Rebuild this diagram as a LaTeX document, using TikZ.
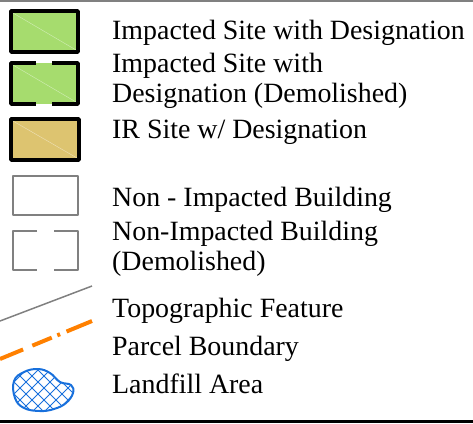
\documentclass[tikz,border=0pt]{standalone}
\usepackage{fontspec}
\setmainfont{Liberation Serif}
\usepackage{xcolor}
\usepackage{tikz}

\definecolor{siteGreen}{RGB}{166,220,110}
\definecolor{siteTan}{RGB}{221,196,112}
\definecolor{bldGray}{RGB}{128,128,128}
\definecolor{parcelOrange}{RGB}{255,128,0}
\definecolor{fillBlue}{RGB}{24,112,220}

\begin{document}
\begin{tikzpicture}[x=1bp, y=-1bp, line join=round,
  every node/.style={font=\fontsize{28}{30}\selectfont, inner sep=0pt, anchor=base west, align=left},
  sitebox/.style={draw=black, line width=3.5bp},
  bldbox/.style={draw=bldGray, line width=2bp}]

\useasboundingbox (0,0) rectangle (473,423);
\draw[bldGray, line width=2bp] (0,1) -- (473,1);
\draw[line width=3bp] (0,421) -- (473,421);

% impacted site
\fill[siteGreen] (11,11) rectangle (78,52);
\draw[white, opacity=0.5, line width=0.4bp] (13,13) -- (76,50);
\draw[sitebox] (11,11) rectangle (78,52);

% impacted site, demolished
\fill[siteGreen] (11,63) rectangle (78,104);
\draw[white, opacity=0.5, line width=0.4bp] (13,65) -- (76,102);
\draw[sitebox] (36,63) -- (11,63) -- (11,104) -- (36,104);
\draw[sitebox] (52,63) -- (78,63) -- (78,104) -- (52,104);

% IR site
\fill[siteTan] (11,119) rectangle (79,160);
\draw[white, opacity=0.5, line width=0.4bp] (13,121) -- (77,158);
\draw[sitebox] (11,119) rectangle (79,160);

% non-impacted buildings
\draw[bldbox] (13,176) rectangle (78,215);
\draw[bldbox] (37,231) -- (13,231) -- (13,270) -- (37,270);
\draw[bldbox] (54,231) -- (78,231) -- (78,270) -- (54,270);

% topographic feature and parcel boundary
\draw[bldGray, line width=1.5bp] (0,321) -- (92,286);
\draw[parcelOrange, line width=4bp,
  dash pattern=on 25bp off 10bp on 21bp off 6bp on 3bp off 7bp on 30bp off 10bp] (0,359) -- (92,321);

% landfill
\def\blob{plot[smooth cycle, tension=0.7] coordinates {(14,381) (24,372) (38,369) (50,373) (60,382) (71,385) (73,393) (66,403) (54,409) (40,411) (24,408) (15,398)}}
\begin{scope}
  \clip \blob;
  \foreach \c in {300,312,...,500} {
    \draw[fillBlue, line width=1bp] (0,\c) -- ++(100,-100);
    \draw[fillBlue, line width=1bp] (0,\c-100) -- ++(100,100);
  }
\end{scope}
\draw[fillBlue, line width=2bp] \blob;

\foreach \name/\y/\txt in {site/39/{Impacted Site with Designation},
    sitedemo/102/{Impacted Site with\\Designation (Demolished)},
    irsite/138/{IR Site w/ Designation},
    bld/206/{Non - Impacted Building},
    blddemo/270/{Non-Impacted Building\\(Demolished)},
    topo/317/{Topographic Feature},
    parcel/355/{Parcel Boundary},
    landfill/393/{Landfill Area}}
  \node (lbl\name) at (112,\y) {\txt};

\end{tikzpicture}
\end{document}
